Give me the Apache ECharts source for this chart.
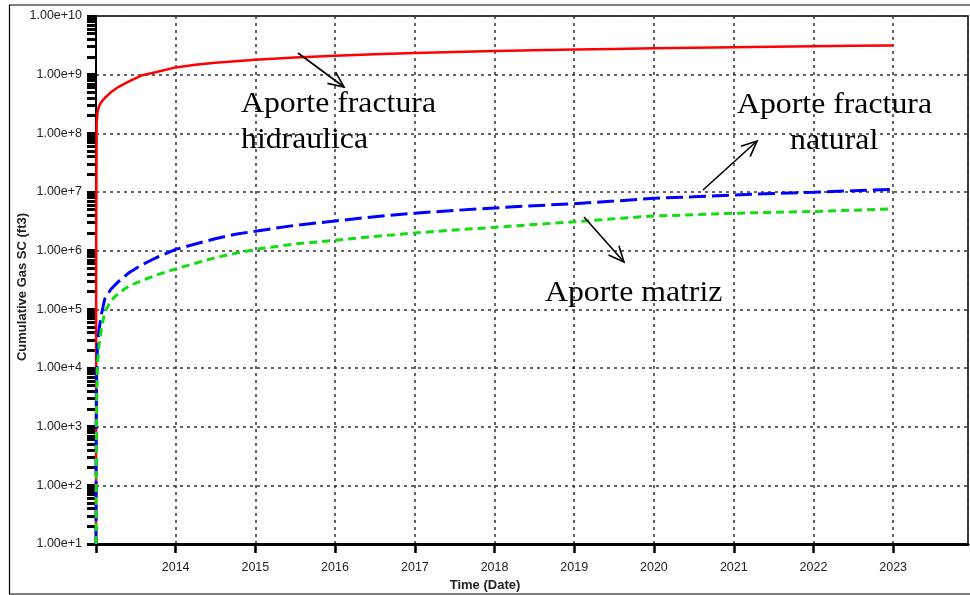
<!DOCTYPE html>
<html>
<head>
<meta charset="utf-8">
<script src="https://cdn.jsdelivr.net/npm/echarts@6/dist/echarts.min.js"></script>
<style>
  html, body { margin: 0; padding: 0; background: #fff; }
  #chart { width: 970px; height: 595px; }
</style>
</head>
<body>
<div id="chart"></div>
<script>
// Sample dates shared by the three cumulative-gas curves
const dates = [
  '2013-01-01', '2013-01-02', '2013-01-04', '2013-01-08', '2013-01-15', '2013-01-25',
  '2013-02-10', '2013-03-10', '2013-04-15', '2013-06-01', '2013-08-01', '2013-10-01',
  '2014-01-01', '2014-04-01', '2014-07-01', '2014-10-01',
  '2015-01-01', '2015-07-01', '2016-01-01', '2016-07-01', '2017-01-01', '2017-07-01',
  '2018-01-01', '2018-07-01', '2019-01-01', '2019-07-01', '2020-01-01', '2020-07-01',
  '2021-01-01', '2021-07-01', '2022-01-01', '2022-07-01', '2023-01-01'
];

// Cumulative Gas SC (ft3) - hydraulic fracture contribution
const hidraulica = [
  10, 2e6, 1.5e8, 2.3e8, 2.9e8, 3.4e8,
  4.0e8, 5.0e8, 6.2e8, 7.7e8, 9.8e8, 1.1e9,
  1.33e9, 1.47e9, 1.6e9, 1.7e9,
  1.8e9, 1.97e9, 2.1e9, 2.22e9, 2.33e9, 2.43e9,
  2.52e9, 2.6e9, 2.68e9, 2.75e9, 2.82e9, 2.88e9,
  2.94e9, 3.0e9, 3.05e9, 3.1e9, 3.14e9
];

// Natural fracture contribution
const naturalFrac = [
  10, 1e3, 8e3, 2.5e4, 4.5e4, 8e4,
  1.5e5, 2.2e5, 3.0e5, 4.2e5, 5.8e5, 7.5e5,
  1.05e6, 1.3e6, 1.6e6, 1.9e6,
  2.15e6, 2.7e6, 3.2e6, 3.8e6, 4.35e6, 4.85e6,
  5.35e6, 5.85e6, 6.3e6, 7.0e6, 7.8e6, 8.3e6,
  8.9e6, 9.4e6, 9.9e6, 1.05e7, 1.11e7
];

// Matrix contribution
const matriz = [
  10, 1e2, 3e3, 1.2e4, 2.5e4, 4.5e4,
  9e4, 1.4e5, 1.9e5, 2.5e5, 3.1e5, 3.8e5,
  4.9e5, 6.1e5, 7.6e5, 9.0e5,
  1.05e6, 1.3e6, 1.5e6, 1.75e6, 2.0e6, 2.25e6,
  2.5e6, 2.8e6, 3.1e6, 3.5e6, 3.9e6, 4.1e6,
  4.35e6, 4.5e6, 4.65e6, 4.9e6, 5.15e6
];

// Log-axis tick marks: 1..9 x 10^k for every decade between 1e1 and 1e10
const yTickValues = [];
for (let k = 1; k <= 9; k++) {
  for (let m = 1; m <= 9; m++) yTickValues.push(m * Math.pow(10, k));
}
yTickValues.push(1e10);

const chart = echarts.init(document.getElementById('chart'), null, { renderer: 'canvas' });

const labelFont = '"Liberation Sans", Arial, sans-serif';
const serifFont = '"Liberation Serif", "Times New Roman", serif';

function pair(values) {
  return dates.map((d, i) => [d, values[i]]);
}

function arrow(x1, y1, x2, y2) {
  const a = Math.atan2(y2 - y1, x2 - x1);
  const L = 17, w = 0.42;
  return [
    { type: 'line', z: 100, shape: { x1, y1, x2, y2 },
      style: { stroke: '#000', lineWidth: 1.6 } },
    { type: 'polyline', z: 100,
      shape: { points: [
        [x2 - L * Math.cos(a - w), y2 - L * Math.sin(a - w)],
        [x2, y2],
        [x2 - L * Math.cos(a + w), y2 - L * Math.sin(a + w)]
      ] },
      style: { stroke: '#000', lineWidth: 1.6, fill: null } }
  ];
}

function note(text, x, baseline) {
  return {
    type: 'text', z: 100, x: x, y: baseline - 9.8, scaleX: 1.096,
    style: { text: text, font: '29px ' + serifFont, fill: '#000',
             textAlign: 'left', verticalAlign: 'middle' }
  };
}

const graphics = [
  // outer frame
  { type: 'polyline', z: 50, shape: { points: [[970, 5], [9.5, 5], [9.5, 594], [970, 594]] },
    style: { stroke: '#000', lineWidth: 1.2, fill: null } },
  // axis titles
  { type: 'text', z: 100, x: 22, y: 287, rotation: Math.PI / 2,
    style: { text: 'Cumulative Gas SC (ft3)', font: 'bold 13px ' + labelFont, fill: '#222',
             textAlign: 'center', verticalAlign: 'middle' } },
  { type: 'text', z: 100, x: 485, y: 585,
    style: { text: 'Time (Date)', font: 'bold 13px ' + labelFont, fill: '#222',
             textAlign: 'center', verticalAlign: 'middle' } },
  // annotations
  note('Aporte fractura', 241, 114),
  note('hidraulica', 241, 150),
  note('Aporte fractura', 737, 115),
  note('natural', 790, 151),
  note('Aporte matriz', 545, 303)
].concat(arrow(298, 53, 344, 87), arrow(703, 190, 757, 141), arrow(584, 217, 624, 262));

const option = {
  animation: false,
  backgroundColor: '#fff',
  grid: {
    left: 96, right: 2, top: 16, bottom: 51,
    show: true, borderColor: '#000', borderWidth: 1.5, backgroundColor: 'transparent'
  },
  xAxis: {
    type: 'time',
    min: '2013-01-01',
    max: '2023-12-10',
    minInterval: 365 * 86400000,
    maxInterval: 366 * 86400000,
    axisLine: { show: true, onZero: false, lineStyle: { color: '#000', width: 3 } },
    axisTick: { show: true, length: 9, lineStyle: { color: '#000', width: 2.5 } },
    axisLabel: {
      margin: 17, color: '#222', fontSize: 12.5, fontFamily: labelFont,
      formatter: v => {
        const y = new Date(v).getFullYear();
        return y >= 2014 ? String(y) : '';
      },
      showMinLabel: false, showMaxLabel: false
    },
    splitLine: { show: true, lineStyle: { color: '#333', width: 1.5, type: [3, 4] } }
  },
  yAxis: [
    {
      // decade labels and grid lines
      type: 'log',
      logBase: 10,
      min: 10,
      max: 1e10,
      interval: 1,
      axisLine: { show: true, lineStyle: { color: '#000', width: 2 } },
      axisTick: { show: false },
      axisLabel: {
        margin: 14, color: '#222', fontSize: 12.5, fontFamily: labelFont,
        formatter: v => Number(v).toExponential(2)
      },
      splitLine: { show: true, lineStyle: { color: '#333', width: 1.5, type: [3, 4] } }
    },
    {
      // dense log tick marks (1..9 per decade) on the same scale
      type: 'log',
      logBase: 10,
      min: 10,
      max: 1e10,
      position: 'left',
      offset: 0,
      axisLine: { show: false },
      axisTick: { show: true, length: 9, customValues: yTickValues,
                  lineStyle: { color: '#000', width: 3 } },
      axisLabel: { show: false },
      splitLine: { show: false }
    }
  ],
  series: [
    { name: 'Aporte fractura hidraulica', type: 'line', data: pair(hidraulica),
      symbol: 'none', z: 3, lineStyle: { color: '#ff0000', width: 2.5 } },
    { name: 'Aporte fractura natural', type: 'line', data: pair(naturalFrac),
      symbol: 'none', z: 3, lineStyle: { color: '#0000ff', width: 3, type: [17, 6] } },
    { name: 'Aporte matriz', type: 'line', data: pair(matriz),
      symbol: 'none', z: 3, lineStyle: { color: '#11dd11', width: 3, type: [8, 5] } }
  ],
  graphic: graphics
};

chart.setOption(option);
</script>
</body>
</html>
